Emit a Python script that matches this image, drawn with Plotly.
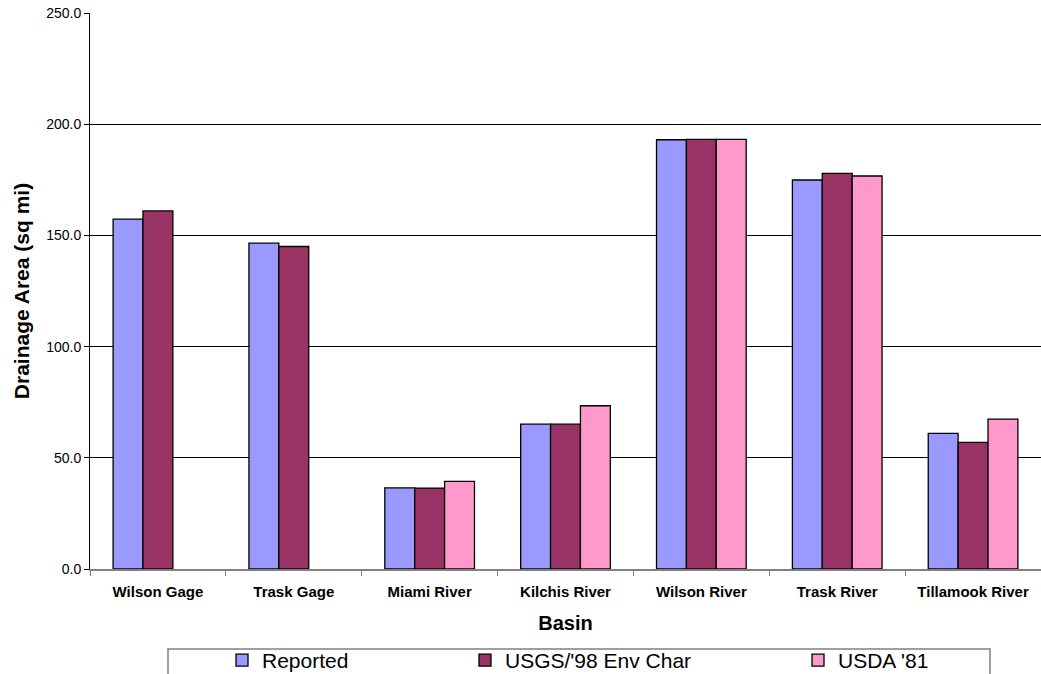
import plotly.graph_objects as go

basins = ["Wilson Gage", "Trask Gage", "Miami River", "Kilchis River",
          "Wilson River", "Trask River", "Tillamook River"]
reported = [157.3, 146.5, 36.5, 65.1, 193.0, 174.9, 61.0]
usgs_98 = [161.0, 145.0, 36.4, 65.1, 193.2, 177.9, 56.9]
usda_81 = [None, None, 39.4, 73.4, 193.2, 176.7, 67.4]

series_names = ["Reported", "USGS/'98 Env Char", "USDA '81"]
series_values = [reported, usgs_98, usda_81]
series_colors = ["#9999FF", "#993366", "#FF99CC"]
legend_ids = ["legend", "legend2", "legend3"]

W, H = 1041, 674
L, R, T, B = 90, 0, 12.5, 105
pw, ph = W - L - R, H - T - B

def px_x(x):
    return (x - L) / pw

def px_y(y):
    return (H - B - y) / ph

FONT = "Arial, Liberation Sans, sans-serif"

fig = go.Figure()
for name, vals, col, lg in zip(series_names, series_values, series_colors, legend_ids):
    fig.add_trace(go.Bar(
        x=basins, y=vals, name=name, legend=lg,
        marker=dict(color=col, line=dict(color="#000000", width=1.3)),
    ))

legend_x_px = [222, 465, 798]
legend_common = dict(orientation="h", yanchor="top", xanchor="left",
                     y=px_y(640), bgcolor="rgba(0,0,0,0)", borderwidth=0,
                     font=dict(family=FONT, size=21, color="#000000"))
layout_legends = {}
for lg, xp in zip(legend_ids, legend_x_px):
    layout_legends[lg] = dict(x=px_x(xp), **legend_common)

fig.update_layout(
    width=W, height=H,
    margin=dict(l=L, r=R, t=T, b=B, autoexpand=False),
    paper_bgcolor="white", plot_bgcolor="white",
    barmode="group", bargap=0.34, bargroupgap=0,
    font=dict(family=FONT, color="#000000"),
    showlegend=True,
    **layout_legends,
    shapes=[dict(type="rect", xref="paper", yref="paper",
                 x0=px_x(168), x1=px_x(990), y0=px_y(649), y1=px_y(690),
                 line=dict(color="#808080", width=1.5), fillcolor="rgba(0,0,0,0)")],
)

fig.update_xaxes(
    type="category", showline=True, linecolor="#808080", linewidth=1.5,
    ticks="outside", tickson="boundaries", ticklen=5, tickcolor="#808080",
    tickfont=dict(family=FONT, size=15, color="#000000", weight="bold"),
    ticklabelstandoff=8, automargin=False,
    title=dict(text="<b>Basin</b>", font=dict(family=FONT, size=20), standoff=17),
    showgrid=False,
)
fig.update_yaxes(
    range=[0, 250], dtick=50, tick0=0, tickformat=".1f",
    showline=True, linecolor="#000000", linewidth=1,
    ticks="outside", ticklen=5, tickcolor="#000000",
    tickfont=dict(family=FONT, size=14, color="#000000"),
    showgrid=True, gridcolor="#000000", gridwidth=1, zeroline=False,
    automargin=False,
    title=dict(text="<b>Drainage Area (sq mi)</b>", font=dict(family=FONT, size=21), standoff=10),
)

fig.write_html(
    "out.html",
    config={"displayModeBar": False},
    post_script="document.body.style.margin='0';document.body.style.overflow='hidden';",
)
